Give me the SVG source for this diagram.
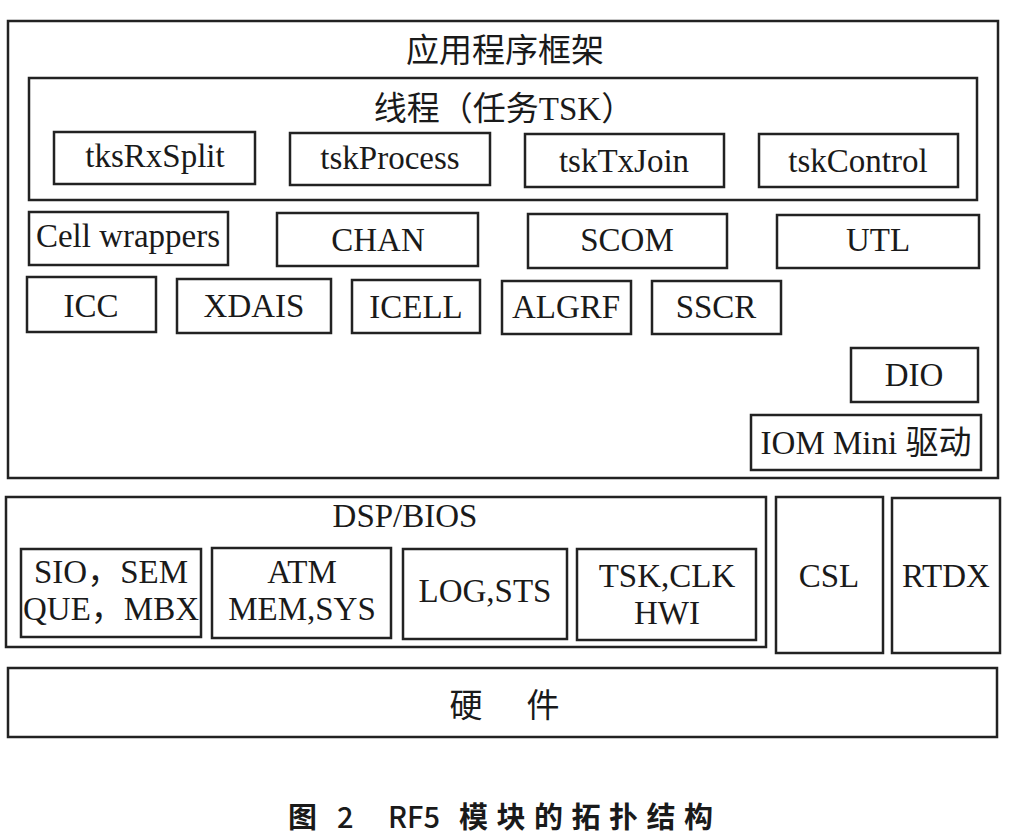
<svg xmlns="http://www.w3.org/2000/svg" width="1016" height="836" viewBox="0 0 1016 836">
<style>
rect{fill:none;stroke:#222;stroke-width:2.5}
text{font-family:"Liberation Serif","Noto Sans CJK SC",serif;font-size:33px;fill:#1a1a1a;text-anchor:middle}
.cap{font-family:"Noto Sans CJK SC","DejaVu Sans",sans-serif;font-size:29px;font-weight:bold;text-anchor:start}
</style>
<rect x="0" y="0" width="1016" height="836" style="fill:#fff;stroke:none"/>
<g id="app-frame">
<rect x="8" y="21" width="990" height="457"/>
<text x="505" y="62">应用程序框架</text>
</g>
<g id="threads">
<rect x="29" y="78" width="948" height="122"/>
<text x="504" y="120">线程（任务TSK）</text>
</g>
<g id="tksRxSplit"><rect x="54" y="132" width="201" height="52"/><text x="155" y="167">tksRxSplit</text></g>
<g id="tskProcess"><rect x="290" y="133" width="200" height="52"/><text x="390" y="169">tskProcess</text></g>
<g id="tskTxJoin"><rect x="525" y="134" width="199" height="53"/><text x="624" y="172">tskTxJoin</text></g>
<g id="tskControl"><rect x="759" y="134" width="199" height="53"/><text x="858" y="172">tskControl</text></g>
<g id="cell-wrappers"><rect x="29" y="212" width="199" height="53"/><text x="128" y="247">Cell wrappers</text></g>
<g id="chan"><rect x="277" y="213" width="201" height="53"/><text x="378" y="251">CHAN</text></g>
<g id="scom"><rect x="528" y="214" width="199" height="54"/><text x="627" y="251">SCOM</text></g>
<g id="utl"><rect x="777" y="215" width="202" height="53"/><text x="878" y="251">UTL</text></g>
<g id="icc"><rect x="27" y="277" width="129" height="55"/><text x="91" y="317">ICC</text></g>
<g id="xdais"><rect x="177" y="279" width="154" height="54"/><text x="254" y="317">XDAIS</text></g>
<g id="icell"><rect x="352" y="280" width="128" height="53"/><text x="416" y="318">ICELL</text></g>
<g id="algrf"><rect x="502" y="281" width="129" height="53"/><text x="566" y="318">ALGRF</text></g>
<g id="sscr"><rect x="652" y="281" width="129" height="53"/><text x="716" y="318">SSCR</text></g>
<g id="dio"><rect x="851" y="348" width="127" height="54"/><text x="914" y="386">DIO</text></g>
<g id="iom"><rect x="751" y="415" width="230" height="55"/><text x="866" y="454">IOM Mini 驱动</text></g>
<g id="dspbios">
<rect x="6" y="497" width="760" height="150"/>
<text x="405" y="527">DSP/BIOS</text>
</g>
<g id="sio"><rect x="21" y="549" width="180" height="88"/><text x="111" y="583">SIO，SEM</text><text x="111" y="620">QUE，MBX</text></g>
<g id="atm"><rect x="212" y="548" width="179" height="90"/><text x="302" y="583">ATM</text><text x="302" y="620">MEM,SYS</text></g>
<g id="logsts"><rect x="403" y="549" width="164" height="90"/><text x="485" y="602">LOG,STS</text></g>
<g id="tskclk"><rect x="577" y="549" width="179" height="91"/><text x="667" y="587">TSK,CLK</text><text x="667" y="624">HWI</text></g>
<g id="csl"><rect x="776" y="497" width="107" height="156"/><text x="829" y="587">CSL</text></g>
<g id="rtdx"><rect x="892" y="498" width="108" height="155"/><text x="946" y="587">RTDX</text></g>
<g id="hardware"><rect x="8" y="668" width="989" height="69"/><text x="466" y="717">硬</text><text x="543" y="717">件</text></g>
<g id="connectors"></g>
<g id="caption">
<text class="cap" x="288" y="828">图</text>
<text class="cap" x="337" y="828" style="font-weight:500">2</text>
<text class="cap" x="388" y="828" style="font-weight:500">RF5</text>
<text class="cap" x="459" y="828" letter-spacing="8.5">模块的拓扑结构</text>
</g>
</svg>
